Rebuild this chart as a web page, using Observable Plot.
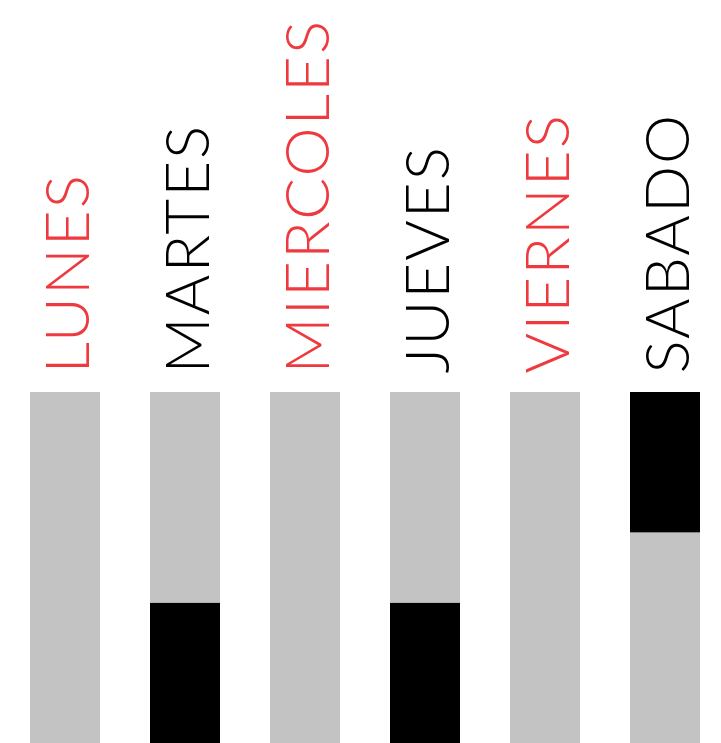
<!DOCTYPE html>
<html>
<head>
<meta charset="utf-8">
<script src="https://cdn.jsdelivr.net/npm/d3@7"></script>
<script src="https://cdn.jsdelivr.net/npm/@observablehq/plot@0.6"></script>
<style>
  html, body { margin: 0; padding: 0; background: #fff; }
  svg { display: block; }
  svg text { letter-spacing: 2px; }
</style>
</head>
<body>
<div id="chart"></div>
<script>
const days = ["LUNES", "MARTES", "MIERCOLES", "JUEVES", "VIERNES", "SABADO"];
const labelColors = ["#ee3a3f", "#000000", "#ee3a3f", "#000000", "#ee3a3f", "#000000"];
const grayValues = [10, 6, 10, 6, 10, 6];
const blackValues = [0, 4, 0, 4, 0, 4];
const blackOnTop = [false, false, false, false, false, true];

const segments = [];
days.forEach((d, i) => {
  const order = blackOnTop[i]
    ? [["rest", grayValues[i]], ["highlight", blackValues[i]]]
    : [["highlight", blackValues[i]], ["rest", grayValues[i]]];
  let acc = 0;
  for (const [kind, v] of order) {
    if (v > 0) segments.push({day: d, kind, y1: acc, y2: acc + v});
    acc += v;
  }
});
const totals = days.map((d, i) => ({day: d, total: grayValues[i] + blackValues[i], color: labelColors[i]}));

const chart = Plot.plot({
  width: 721,
  height: 743,
  marginLeft: 30,
  marginRight: 21,
  marginTop: 392,
  marginBottom: 0,
  x: {domain: days, paddingInner: 50 / 120, paddingOuter: 0, axis: null},
  y: {domain: [0, 10], axis: null},
  color: {domain: ["rest", "highlight"], range: ["#c2c3c2", "#000000"]},
  marks: [
    Plot.rectY(segments, {x: "day", y1: "y1", y2: "y2", fill: "kind"}),
    Plot.text(totals, {
      x: "day", y: "total", text: "day", fill: "color",
      rotate: -90, textAnchor: "start", lineAnchor: "middle",
      dy: -19, dx: 4,
      fontSize: 62, fontFamily: "Lato, 'Open Sans', sans-serif", fontWeight: 300
    })
  ]
});
document.getElementById("chart").appendChild(chart);
</script>
</body>
</html>
